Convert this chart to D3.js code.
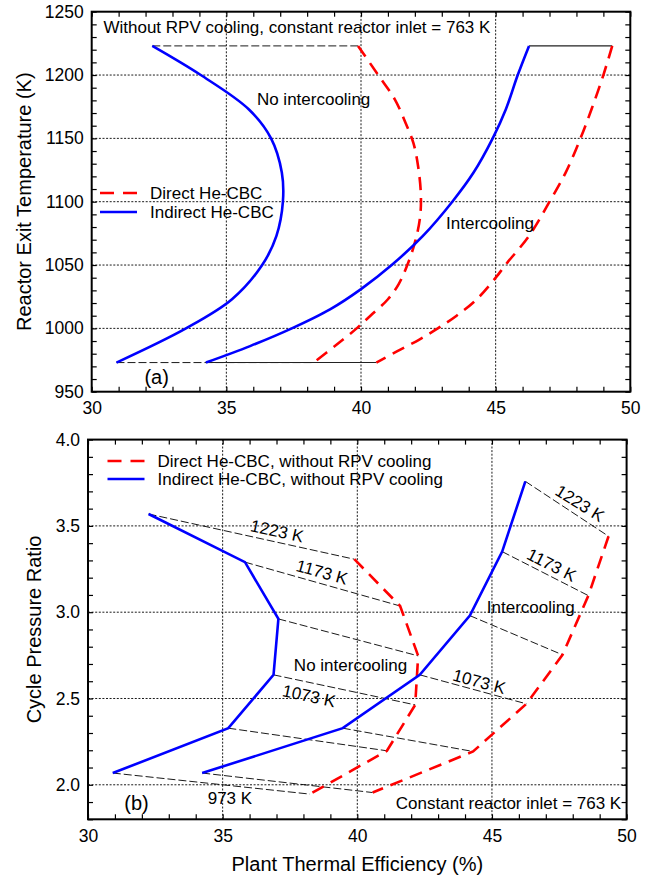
<!DOCTYPE html>
<html>
<head>
<meta charset="utf-8">
<script src="https://cdn.jsdelivr.net/npm/d3@7"></script>
<style>
  body { margin: 0; background: #fff; }
  text { font-family: Arial, "Liberation Sans", sans-serif; fill: #000; }
</style>
</head>
<body>
<div id="chart"></div>
<script>
// ---- panel (b): one point per reactor exit temperature ----
const exitTemps = [1223, 1173, 1123, 1073, 1023, 973];
const effIndirectNoIc = [32.25, 35.83, 37.07, 36.89, 35.21, 30.92];
const prIndirectNoIc  = [3.569, 3.290, 2.961, 2.637, 2.328, 2.068];
const effDirectNoIc   = [39.89, 41.59, 42.26, 42.15, 41.10, 38.24];
const prDirectNoIc    = [3.307, 3.036, 2.747, 2.463, 2.197, 1.946];
const effIndirectIc   = [46.24, 45.38, 44.18, 42.32, 39.46, 34.24];
const prIndirectIc    = [3.758, 3.351, 2.980, 2.637, 2.328, 2.068];
const effDirectIc     = [49.33, 48.58, 47.62, 46.28, 44.30, 40.57];
const prDirectIc      = [3.440, 3.096, 2.753, 2.469, 2.193, 1.955];

// ---- panel (a): efficiency against reactor exit temperature ----
const tIndirectNoIcA = [1223, 1200, 1173, 1150, 1123, 1100, 1073, 1050, 1023, 1000, 973];
const eIndirectNoIcA = [32.25, 34.05, 35.83, 36.66, 37.06, 37.10, 36.86, 36.33, 35.21, 33.50, 30.92];
const tIndirectIcA = [1223, 1200, 1173, 1150, 1123, 1100, 1073, 1050, 1031, 1015, 1000, 986, 973];
const eIndirectIcA = [46.24, 45.82, 45.38, 44.89, 44.18, 43.39, 42.30, 41.14, 40.00, 38.85, 37.43, 35.88, 34.24];
const tDirectNoIcA = [1223, 1200, 1181, 1162, 1146, 1128, 1107, 1089, 1070, 1050, 1035, 1023, 1010, 1000, 986, 973];
const eDirectNoIcA = [39.89, 40.64, 41.25, 41.66, 41.95, 42.12, 42.22, 42.20, 42.03, 41.72, 41.40, 41.00, 40.35, 39.84, 39.03, 38.24];
const tDirectIcA = [1223, 1200, 1173, 1150, 1123, 1100, 1073, 1050, 1041, 1023, 1010, 1000, 991, 982, 973];
const eDirectIcA = [49.33, 49.00, 48.56, 48.15, 47.60, 47.00, 46.24, 45.36, 45.04, 44.30, 43.55, 42.85, 42.15, 41.35, 40.57];

// ---- ticks ----
const effTicks = [30, 35, 40, 45, 50];
const tempTicks = [950, 1000, 1050, 1100, 1150, 1200, 1250];
const prTicks = [2.0, 2.5, 3.0, 3.5, 4.0];

const RED = '#ff0000';
const BLUE = '#0000ff';
const FONT = 17;
const TICK_FONT = 17.5;
const TITLE_FONT = 20;

const svg = d3.select('#chart').append('svg')
  .attr('width', 652)
  .attr('height', 875);

const xA = d3.scaleLinear().domain([30, 50]).range([91.7, 630.3]);
const yA = d3.scaleLinear().domain([950, 1250]).range([391.7, 11.7]);
const xB = d3.scaleLinear().domain([30, 50]).range([88, 626.6]);
const yB = d3.scaleLinear().domain([1.8, 4.0]).range([819.3, 439.6]);

function drawGrid(x, y, xGrid, yGrid) {
  const [x0, x1] = x.range();
  const [y0, y1] = y.range();
  const g = svg.append('g').attr('class', 'grid')
    .attr('stroke', '#000')
    .attr('stroke-width', 0.9)
    .attr('stroke-dasharray', '2,1.6');
  g.selectAll('.gx').data(xGrid).join('line')
    .attr('x1', d => x(d)).attr('x2', d => x(d))
    .attr('y1', y0).attr('y2', y1);
  g.selectAll('.gy').data(yGrid).join('line')
    .attr('y1', d => y(d)).attr('y2', d => y(d))
    .attr('x1', x0).attr('x2', x1);
}

function styleAxis(g) {
  g.select('.domain').remove();
  g.selectAll('line').attr('stroke', '#000').attr('stroke-width', 1.2);
  g.selectAll('text')
    .style('font-family', 'Arial, "Liberation Sans", sans-serif')
    .style('font-size', TICK_FONT + 'px')
    .attr('fill', '#000');
}

function drawFrame(x, y, xMinor, yMinor, xMajor, yMajor, yFormat) {
  const [x0, x1] = x.range();
  const [y0, y1] = y.range();
  const isMajorX = v => xMajor.some(m => Math.abs(m - v) < 1e-6);
  const isMajorY = v => yMajor.some(m => Math.abs(m - v) < 1e-6);

  svg.append('g').attr('transform', `translate(0,${y0})`)
    .call(d3.axisBottom(x).tickValues(xMinor).tickSize(-5).tickPadding(10)
      .tickFormat(d => isMajorX(d) ? d : ''))
    .call(styleAxis);
  svg.append('g').attr('transform', `translate(0,${y1})`)
    .call(d3.axisTop(x).tickValues(xMinor).tickSize(-5).tickFormat(''))
    .call(styleAxis);
  svg.append('g').attr('transform', `translate(${x0},0)`)
    .call(d3.axisLeft(y).tickValues(yMinor).tickSize(-5).tickPadding(8)
      .tickFormat(d => isMajorY(d) ? yFormat(d) : ''))
    .call(styleAxis);
  svg.append('g').attr('transform', `translate(${x1},0)`)
    .call(d3.axisRight(y).tickValues(yMinor).tickSize(-5).tickFormat(''))
    .call(styleAxis);

  svg.append('rect')
    .attr('x', x0).attr('y', y1)
    .attr('width', x1 - x0).attr('height', y0 - y1)
    .attr('fill', 'none')
    .attr('stroke', '#000')
    .attr('stroke-width', 2);
}

function addText(str, px, py, opts = {}) {
  return svg.append('text')
    .attr('transform', `translate(${px},${py}) rotate(${opts.rotate || 0})`)
    .attr('text-anchor', opts.anchor || 'middle')
    .attr('dy', '0.35em')
    .style('font-size', (opts.size || FONT) + 'px')
    .text(str);
}

function connector(x, y, xa, ya, xb, yb, dashed) {
  svg.append('line')
    .attr('x1', x(xa)).attr('y1', y(ya))
    .attr('x2', x(xb)).attr('y2', y(yb))
    .attr('stroke', dashed ? '#000' : '#222')
    .attr('stroke-width', dashed ? 0.9 : 1.1)
    .attr('stroke-dasharray', dashed ? '8,3' : null);
}

function curve(x, y, xs, ys, color, dashed, smooth) {
  const line = d3.line()
    .x(d => x(d[0]))
    .y(d => y(d[1]))
    .curve(smooth ? d3.curveCatmullRom.alpha(0.5) : d3.curveLinear);
  svg.append('path')
    .datum(xs.map((v, i) => [v, ys[i]]))
    .attr('d', line)
    .attr('fill', 'none')
    .attr('stroke', color)
    .attr('stroke-width', 2.6)
    .attr('stroke-dasharray', dashed ? '13,8' : null);
}

function legend(x0, yRow, items) {
  items.forEach((it, i) => {
    const yy = yRow + i * it.gap;
    svg.append('line')
      .attr('x1', x0).attr('x2', x0 + 37)
      .attr('y1', yy).attr('y2', yy)
      .attr('stroke', it.color)
      .attr('stroke-width', 2.6)
      .attr('stroke-dasharray', it.dashed ? '14,9' : null);
    addText(it.label, x0 + 50, yy, {anchor: 'start'});
  });
}

// ================= panel (a) =================
drawGrid(xA, yA, [35, 40, 45], [1000, 1050, 1100, 1150, 1200]);

connector(xA, yA, eIndirectNoIcA[0], tIndirectNoIcA[0], eDirectNoIcA[0], tDirectNoIcA[0], true);
connector(xA, yA, eIndirectNoIcA[eIndirectNoIcA.length - 1], 973, eDirectNoIcA[eDirectNoIcA.length - 1], 973, true);
connector(xA, yA, eIndirectIcA[0], 1223, eDirectIcA[0], 1223, false);
connector(xA, yA, eIndirectIcA[eIndirectIcA.length - 1], 973, eDirectIcA[eDirectIcA.length - 1], 973, false);

curve(xA, yA, eDirectNoIcA, tDirectNoIcA, RED, true, true);
curve(xA, yA, eDirectIcA, tDirectIcA, RED, true, true);
curve(xA, yA, eIndirectNoIcA, tIndirectNoIcA, BLUE, false, true);
curve(xA, yA, eIndirectIcA, tIndirectIcA, BLUE, false, true);

drawFrame(xA, yA, d3.range(30, 51), d3.range(950, 1251, 10), effTicks, tempTicks, d => d);

addText('Without RPV cooling, constant reactor inlet = 763 K', xA(37.62), yA(1238));
addText('No intercooling', xA(38.24), yA(1181));
addText('Intercooling', xA(44.79), yA(1083));
addText('(a)', xA(32.41), yA(961.5), {size: 20});
legend(100, 193, [
  {label: 'Direct He-CBC', color: RED, dashed: true, gap: 19},
  {label: 'Indirect He-CBC', color: BLUE, dashed: false, gap: 19}
]);

svg.append('text')
  .attr('transform', `translate(24,${(yA.range()[0] + yA.range()[1]) / 2}) rotate(-90)`)
  .attr('text-anchor', 'middle')
  .attr('dy', '0.35em')
  .style('font-size', TITLE_FONT + 'px')
  .text('Reactor Exit Temperature (K)');

// ================= panel (b) =================
drawGrid(xB, yB, [35, 40, 45], [2.0, 2.5, 3.0, 3.5]);

exitTemps.forEach((t, i) => {
  connector(xB, yB, effIndirectNoIc[i], prIndirectNoIc[i], effDirectNoIc[i], prDirectNoIc[i], true);
  connector(xB, yB, effIndirectIc[i], prIndirectIc[i], effDirectIc[i], prDirectIc[i], true);
});

curve(xB, yB, effDirectNoIc, prDirectNoIc, RED, true, false);
curve(xB, yB, effDirectIc, prDirectIc, RED, true, false);
curve(xB, yB, effIndirectNoIc, prIndirectNoIc, BLUE, false, false);
curve(xB, yB, effIndirectIc, prIndirectIc, BLUE, false, false);

drawFrame(xB, yB, d3.range(30, 51), d3.range(18, 41).map(d => d / 10), effTicks, prTicks, d3.format('.1f'));

// temperature labels along the connectors
const tempLabels = [
  {text: '1223 K', x: 37.02, y: 3.471, rot: 12.5},
  {text: '1173 K', x: 38.69, y: 3.233, rot: 15.5},
  {text: '1073 K', x: 38.21, y: 2.515, rot: 12},
  {text: '973 K',  x: 35.27, y: 1.926, rot: 0},
  {text: '1223 K', x: 48.27, y: 3.631, rot: 32},
  {text: '1173 K', x: 47.22, y: 3.274, rot: 27},
  {text: '1073 K', x: 44.53, y: 2.598, rot: 15}
];
tempLabels.forEach(l => addText(l.text, xB(l.x), yB(l.y), {rotate: l.rot}));

addText('Intercooling', xB(46.44), yB(3.032));
addText('No intercooling', xB(39.75), yB(2.695));
addText('(b)', xB(31.8), yB(1.896), {size: 20});
addText('Constant reactor inlet = 763 K', xB(49.8), yB(1.896), {anchor: 'end'});
legend(107.5, 461, [
  {label: 'Direct He-CBC, without RPV cooling', color: RED, dashed: true, gap: 18},
  {label: 'Indirect He-CBC, without RPV cooling', color: BLUE, dashed: false, gap: 18}
]);

svg.append('text')
  .attr('transform', `translate(33.5,${(yB.range()[0] + yB.range()[1]) / 2}) rotate(-90)`)
  .attr('text-anchor', 'middle')
  .attr('dy', '0.35em')
  .style('font-size', TITLE_FONT + 'px')
  .text('Cycle Pressure Ratio');

svg.append('text')
  .attr('x', (xB.range()[0] + xB.range()[1]) / 2)
  .attr('y', 864)
  .attr('text-anchor', 'middle')
  .attr('dy', '0.35em')
  .style('font-size', TITLE_FONT + 'px')
  .text('Plant Thermal Efficiency (%)');
</script>
</body>
</html>
